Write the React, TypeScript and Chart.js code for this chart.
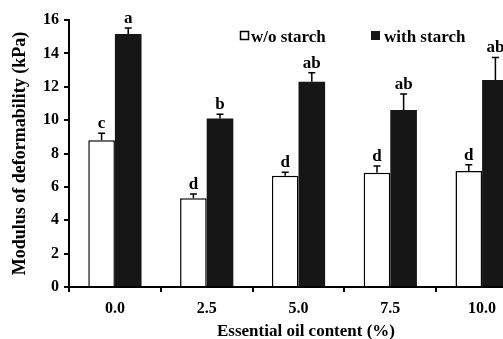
import React, { useEffect, useRef } from "react";
import { Chart, registerables } from "chart.js";

Chart.register(...registerables);

const categories = ["0.0", "2.5", "5.0", "7.5", "10.0"];
const seriesNames = ["w/o starch", "with starch"];
const withoutStarch = [8.8, 5.32, 6.67, 6.85, 6.95];
const withoutStarchErr = [0.42, 0.25, 0.2, 0.4, 0.38];
const withStarch = [15.16, 10.1, 12.3, 10.6, 12.4];
const withStarchErr = [0.36, 0.25, 0.54, 0.96, 1.36];
const withoutLetters = ["c", "d", "d", "d", "d"];
const withLetters = ["a", "b", "ab", "ab", "ab"];
const yTitle = "Modulus of deformability (kPa)";
const xTitle = "Essential oil content (%)";

const FONT = "'Liberation Serif', 'Times New Roman', serif";
const BLACK = "#161616";

const overlay = {
  id: "overlay",
  afterDatasetsDraw(chart: any) {
    const ctx = chart.ctx as CanvasRenderingContext2D;
    const y = chart.scales.y;
    const errs = [withoutStarchErr, withStarchErr];
    const letters = [withoutLetters, withLetters];
    ctx.save();
    chart.data.datasets.forEach((ds: any, di: number) => {
      const meta = chart.getDatasetMeta(di);
      meta.data.forEach((bar: any, i: number) => {
        const v = ds.data[i] as number;
        const top = y.getPixelForValue(v + errs[di][i]);
        const base = bar.y;
        ctx.strokeStyle = "#000";
        ctx.lineWidth = 1.5;
        ctx.beginPath();
        ctx.moveTo(bar.x, base);
        ctx.lineTo(bar.x, top);
        ctx.moveTo(bar.x - 3.5, top);
        ctx.lineTo(bar.x + 3.5, top);
        ctx.stroke();
        ctx.fillStyle = "#000";
        ctx.font = `bold 17px ${FONT}`;
        ctx.textAlign = "center";
        ctx.textBaseline = "alphabetic";
        ctx.fillText(letters[di][i], bar.x, top - 5);
      });
    });

    // legend
    ctx.font = `bold 17px ${FONT}`;
    ctx.textAlign = "left";
    ctx.textBaseline = "alphabetic";
    ctx.fillStyle = "#fff";
    ctx.strokeStyle = "#000";
    ctx.lineWidth = 1.5;
    ctx.fillRect(240.5, 31.5, 8, 8);
    ctx.strokeRect(240.5, 31.5, 8, 8);
    ctx.fillStyle = "#000";
    ctx.fillText(seriesNames[0], 251, 41.5);
    ctx.fillStyle = BLACK;
    ctx.fillRect(371, 31, 9, 9);
    ctx.fillStyle = "#000";
    ctx.fillText(seriesNames[1], 384, 41.5);

    // x title
    ctx.textAlign = "center";
    ctx.fillText(xTitle, 306, 335.5);
    ctx.restore();
  },
};

export default function App() {
  const ref = useRef<HTMLCanvasElement | null>(null);
  useEffect(() => {
    if (!ref.current) return;
    const chart = new Chart(ref.current, {
      type: "bar",
      data: {
        labels: categories,
        datasets: [
          {
            label: seriesNames[0],
            data: withoutStarch,
            backgroundColor: "#ffffff",
            borderColor: "#000000",
            borderWidth: 1.5,
            barPercentage: 1,
            categoryPercentage: 0.58,
          },
          {
            label: seriesNames[1],
            data: withStarch,
            backgroundColor: BLACK,
            borderColor: BLACK,
            borderWidth: 0,
            barPercentage: 1,
            categoryPercentage: 0.58,
          },
        ],
      },
      options: {
        responsive: false,
        animation: false,
        devicePixelRatio: 1,
        layout: { padding: { left: 0, right: 12, top: 20, bottom: 0 } },
        plugins: {
          legend: { display: false },
          tooltip: { enabled: false },
        },
        scales: {
          x: {
            grid: {
              display: true,
              offset: true,
              drawOnChartArea: false,
              drawTicks: true,
              tickLength: 5,
              color: "#000",
              lineWidth: 2,
            },
            border: { display: true, color: "#000", width: 2 },
            ticks: {
              color: "#000",
              font: { family: FONT, size: 16, weight: "bold" },
              padding: 7,
              maxRotation: 0,
            },
            afterFit(scale: any) {
              scale.height = 52;
            },
          },
          y: {
            min: 0,
            max: 16,
            ticks: {
              stepSize: 2,
              color: "#000",
              font: { family: FONT, size: 16, weight: "bold" },
              padding: 5,
            },
            grid: {
              display: true,
              drawOnChartArea: false,
              drawTicks: true,
              tickLength: 5,
              color: "#000",
              lineWidth: 2,
            },
            border: { display: true, color: "#000", width: 2 },
            title: {
              display: true,
              text: yTitle,
              color: "#000",
              font: { family: FONT, size: 18, weight: "bold", lineHeight: 1.2 },
              padding: { top: 10, bottom: 0 },
            },
            afterFit(scale: any) {
              scale.width = 69;
            },
          },
        },
      },
      plugins: [overlay],
    });
    return () => chart.destroy();
  }, []);

  return (
    <div
      style={{
        position: "fixed",
        left: 0,
        top: 0,
        width: 503,
        height: 339,
        overflow: "hidden",
        background: "#fff",
      }}
    >
      <canvas ref={ref} width={540} height={339} style={{ display: "block", width: 540, height: 339 }} />
    </div>
  );
}
